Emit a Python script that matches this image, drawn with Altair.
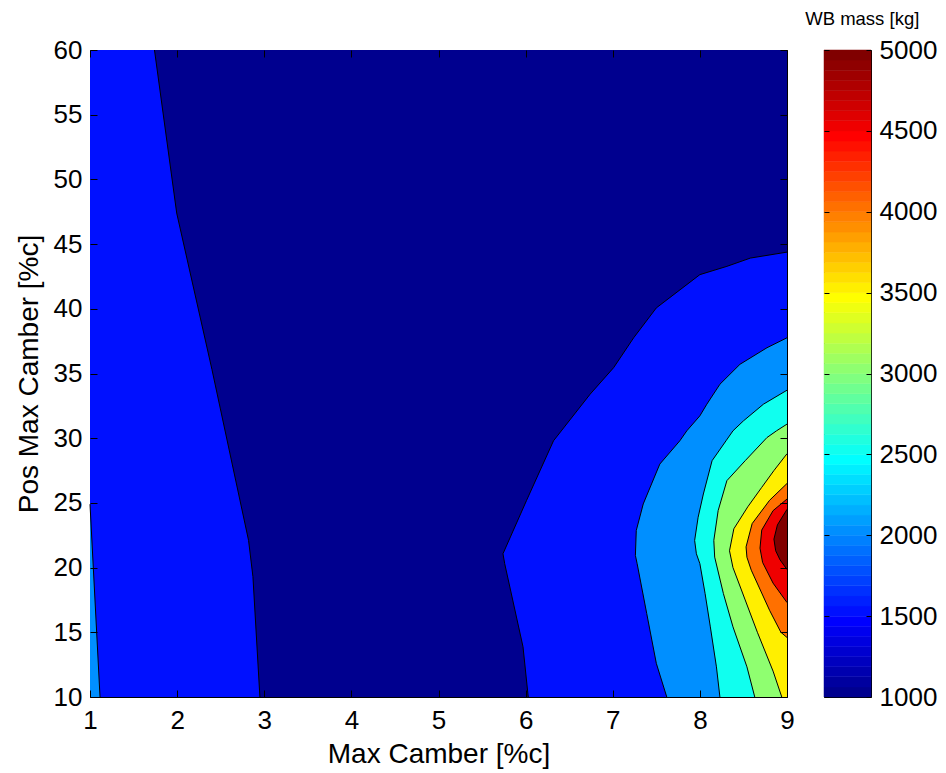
import altair as alt
import pandas as pd
import numpy as np

# ---------------- data ----------------
x_ticks = [1, 2, 3, 4, 5, 6, 7, 8, 9]
y_ticks = [10, 15, 20, 25, 30, 35, 40, 45, 50, 55, 60]
cbar_ticks = [1000, 1500, 2000, 2500, 3000, 3500, 4000, 4500, 5000]
levels = [1000, 1500, 2000, 2500, 3000, 3500, 4000, 4500, 5000]

# contour boundaries (x as a function of y); the region lies toward 'edge'
left1500_y = [10, 19.3, 22.1, 35.3, 47.4, 60]
left1500_x = [2.95, 2.87, 2.82, 2.40, 1.995, 1.74]

left2000_y = [10, 24.9]
left2000_x = [1.115, 1.0]

right1500_y = [10, 13.88, 20.30, 21.07, 25.18, 29.80, 33.40, 35.45, 37.76, 40.07, 42.64, 43.28, 43.92, 44.38]
right1500_x = [6.03, 5.97, 5.76, 5.74, 6.01, 6.32, 6.74, 7.01, 7.24, 7.50, 8.00, 8.31, 8.58, 9.0]

right2000_y = [10, 12.60, 16.45, 20.30, 20.94, 22.87, 24.92, 28.00, 29.80, 30.57, 31.73, 32.63, 34.17, 35.71, 36.99, 37.76]
right2000_x = [7.62, 7.50, 7.39, 7.28, 7.26, 7.27, 7.35, 7.54, 7.77, 7.85, 8.00, 8.08, 8.23, 8.46, 8.77, 9.0]

right2500_y = [10, 12.33, 15.42, 17.99, 20.30, 21.07, 22.10, 23.89, 25.69, 28.26, 29.80, 30.57, 31.34, 32.63, 33.71]
right2500_x = [8.23, 8.19, 8.12, 8.06, 8.00, 7.96, 7.94, 7.98, 8.04, 8.14, 8.30, 8.38, 8.50, 8.73, 9.0]

right3000_y = [10, 12.33, 15.42, 17.99, 20.81, 22.10, 24.41, 26.72, 28.26, 30.05, 30.57, 31.09]
right3000_x = [8.63, 8.54, 8.38, 8.27, 8.17, 8.16, 8.21, 8.31, 8.52, 8.77, 8.88, 9.0]

right3500_y = [10, 12.0, 15.0, 17.5, 20.0, 21.3, 23.0, 24.7, 26.2, 27.5, 28.8]
right3500_x = [8.94, 8.84, 8.66, 8.52, 8.38, 8.34, 8.39, 8.55, 8.71, 8.85, 9.0]

right4000_y = [14.6, 15.0, 16.7, 19.8, 20.8, 21.6, 23.4, 25.2, 26.5]
right4000_x = [9.0, 8.93, 8.80, 8.59, 8.54, 8.53, 8.60, 8.80, 9.0]

right4500_y = [17.3, 18.8, 20.4, 21.5, 22.9, 24.4, 25.3]
right4500_x = [9.0, 8.84, 8.72, 8.69, 8.71, 8.84, 9.0]

right5000_y = [19.85, 20.6, 21.3, 22.2, 23.3, 24.5]
right5000_x = [9.0, 8.92, 8.87, 8.85, 8.89, 9.0]

x_min, x_max = x_ticks[0], x_ticks[-1]
y_min, y_max = y_ticks[0], y_ticks[-1]

curves = [
    (1500, x_min, left1500_x, left1500_y),
    (1500, x_max, right1500_x, right1500_y),
    (2000, x_min, left2000_x, left2000_y),
    (2000, x_max, right2000_x, right2000_y),
    (2500, x_max, right2500_x, right2500_y),
    (3000, x_max, right3000_x, right3000_y),
    (3500, x_max, right3500_x, right3500_y),
    (4000, x_max, right4000_x, right4000_y),
    (4500, x_max, right4500_x, right4500_y),
    (5000, x_max, right5000_x, right5000_y),
]


# ---------------- MATLAB jet(64) colormap (style) ----------------
def jet(n=64):
    m = int(np.ceil(n / 4))
    u = np.concatenate([np.arange(1, m + 1) / m, np.ones(m - 1), np.arange(m, 0, -1) / m])
    g = int(np.ceil(m / 2)) - (1 if n % 4 == 1 else 0) + np.arange(1, len(u) + 1)
    r = g + m
    b = g - m
    cmap = np.zeros((n, 3))
    for arr, ch in ((r, 0), (g, 1), (b, 2)):
        mask = (arr >= 1) & (arr <= n)
        cmap[arr[mask] - 1, ch] = u[mask]
    return ["#%02x%02x%02x" % tuple(int(round(c * 255)) for c in row) for row in cmap]


JET = jet(64)
c_lo, c_hi = cbar_ticks[0], cbar_ticks[-1]


def level_color(v):
    idx = int((v - c_lo) / (c_hi - c_lo) * 64)
    return JET[min(max(idx, 0), 63)]


FONT = "Liberation Sans"
LBL = 26
TTL = 28
W, H = 697, 647

xscale = alt.Scale(domain=[x_min, x_max], nice=False, zero=False)
yscale = alt.Scale(domain=[y_min, y_max], nice=False, zero=False)


def inner_axis(orient, values, labels=True, title=None, pad=8, tpad=10, size=7):
    kw = dict(orient=orient, values=values, domain=False, ticks=True, tickSize=size,
              offset=-size, tickColor="black", tickWidth=1, grid=False, labels=labels,
              labelPadding=pad, labelFlush=False, labelOverlap=False, zindex=1,
              title=title, titlePadding=tpad,
              labelFont=FONT, labelFontSize=LBL, labelColor="black", format="d",
              titleFont=FONT, titleFontSize=TTL, titleFontWeight="normal", titleColor="black")
    return alt.Axis(**kw)


frame_df = pd.DataFrame({"x": [x_min], "x2": [x_max], "y": [y_min], "y2": [y_max]})

bg = alt.Chart(frame_df).mark_rect(color=level_color(levels[0])).encode(
    x=alt.X("x:Q", scale=xscale, axis=inner_axis("bottom", x_ticks, title="Max Camber [%c]", pad=10, tpad=7)),
    x2="x2",
    y=alt.Y("y:Q", scale=yscale, axis=inner_axis("left", y_ticks, title="Pos Max Camber [%c]", pad=8, tpad=10)),
    y2="y2",
)

layers = [bg]
for lvl, edge, xs, ys in curves:
    df = pd.DataFrame({"x": xs, "y": ys, "edge": [edge] * len(xs)})
    layers.append(
        alt.Chart(df).mark_area(orient="horizontal", color=level_color(lvl)).encode(
            y=alt.Y("y:Q", scale=yscale, axis=None),
            x=alt.X("x:Q", scale=xscale, axis=None),
            x2="edge:Q",
        )
    )

for lvl, edge, xs, ys in curves:
    df = pd.DataFrame({"x": xs, "y": ys, "i": list(range(len(xs)))})
    layers.append(
        alt.Chart(df).mark_line(color="black", strokeWidth=1).encode(
            x=alt.X("x:Q", scale=xscale, axis=None),
            y=alt.Y("y:Q", scale=yscale, axis=None),
            order="i:Q",
        )
    )

mirror = alt.Chart(frame_df).mark_rect(opacity=0).encode(
    x=alt.X("x:Q", scale=xscale, axis=inner_axis("top", x_ticks, labels=False)),
    x2="x2",
    y=alt.Y("y:Q", scale=yscale, axis=inner_axis("right", y_ticks, labels=False)),
    y2="y2",
)
layers.append(mirror)

main = alt.layer(*layers).resolve_axis(x="independent", y="independent").properties(width=W, height=H)

# ---------------- colorbar ----------------
step = (c_hi - c_lo) / 64
cb_df = pd.DataFrame({
    "lo": [c_lo + i * step for i in range(64)],
    "hi": [c_lo + (i + 1) * step for i in range(64)],
    "color": JET,
    "a": [0] * 64,
    "b": [1] * 64,
})
cscale = alt.Scale(domain=[c_lo, c_hi], nice=False, zero=False)
bscale = alt.Scale(domain=[0, 1], nice=False, zero=False)

cb_rect = alt.Chart(cb_df).mark_rect(strokeWidth=0.5).encode(
    x=alt.X("a:Q", scale=bscale, axis=None),
    x2="b",
    y=alt.Y("lo:Q", scale=cscale, axis=inner_axis("right", cbar_ticks, pad=8, size=5)),
    y2="hi",
    color=alt.Color("color:N", scale=None),
    stroke=alt.Color("color:N", scale=None),
)
cb_left = alt.Chart(cb_df).mark_rect(opacity=0).encode(
    x=alt.X("a:Q", scale=bscale, axis=None),
    x2="b",
    y=alt.Y("lo:Q", scale=cscale, axis=inner_axis("left", cbar_ticks, labels=False, size=5)),
    y2="hi",
)
cbar = alt.layer(cb_rect, cb_left).resolve_axis(y="independent").properties(width=47, height=H)

chart = alt.hconcat(main, cbar, spacing=28).properties(
    title=alt.TitleParams("WB mass [kg]", anchor="end", fontSize=18.5, font=FONT,
                          fontWeight="normal", color="black", offset=8, dx=-18),
    padding={"left": 14, "top": 10, "right": 5, "bottom": 5},
).configure_view(
    stroke="black", strokeWidth=1
).configure_title(
    fontSize=18.5, font=FONT
)

chart.save("out.html", embed_options={"renderer": "svg", "actions": False})
